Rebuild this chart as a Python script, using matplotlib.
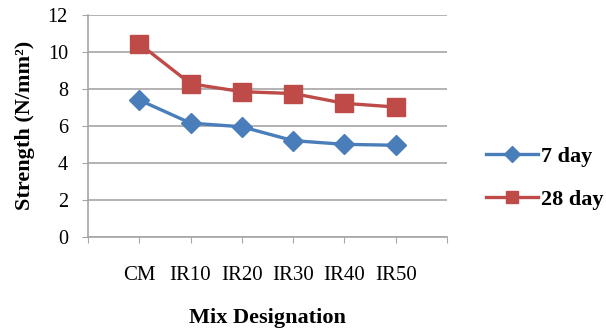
import matplotlib.pyplot as plt
from matplotlib.lines import Line2D
import numpy as np

categorias = ['CM', 'IR10', 'IR20', 'IR30', 'IR40', 'IR50']
dia7 = [7.4, 6.15, 5.95, 5.2, 5.0, 4.95]
dia28 = [10.45, 8.28, 7.85, 7.75, 7.22, 7.02]
yticks = [0, 2, 4, 6, 8, 10, 12]

azul = '#4a7ebb'
vermelho = '#be4b48'

plt.rcParams['font.family'] = ['Liberation Serif', 'DejaVu Serif']

fig = plt.figure(figsize=(6.06, 3.34), dpi=100)
ax = fig.add_axes([0.1452, 0.2913, 0.5924, 0.6637])

x = np.arange(1, len(categorias) + 1)

ax.plot(x, dia7, color=azul, linewidth=2.4, marker='D', markersize=10,
        markeredgecolor=azul, zorder=3)
ax.plot(x, dia28, color=vermelho, linewidth=2.4, marker='s', markersize=13,
        markeredgecolor=vermelho, zorder=3)

ax.set_xlim(0, 7)
ax.set_ylim(0, 12)
ax.set_yticks(yticks)
ax.set_xticks(np.arange(0, 8))
ax.set_xticklabels([''] + categorias + [''])
ax.yaxis.grid(True, color='#a6a6a6', linewidth=1.2)
ax.set_axisbelow(True)

for s in ['top', 'right']:
    ax.spines[s].set_visible(False)
ax.spines['left'].set_color('#a6a6a6')
ax.spines['bottom'].set_color('#a6a6a6')
ax.spines['left'].set_linewidth(1.2)
ax.spines['bottom'].set_linewidth(1.2)

ax.tick_params(axis='y', direction='out', length=4.5, color='#a6a6a6',
               labelsize=14.5, pad=10)
ax.tick_params(axis='x', direction='out', length=4, color='#a6a6a6',
               labelsize=15, pad=17)

ax.set_xlabel('Mix Designation', fontsize=16, fontweight='bold', labelpad=17)
ax.set_ylabel('Strength (N/mm²)', fontsize=16, fontweight='bold', labelpad=9)

# legenda com marcadores menores, como no Excel
handles = [
    Line2D([], [], color=azul, linewidth=2.4, marker='D', markersize=8),
    Line2D([], [], color=vermelho, linewidth=2.4, marker='s', markersize=9),
]
ax.legend(handles, ['7 day', '28 day'], loc='center left',
          bbox_to_anchor=(1.085, 0.265), frameon=False,
          prop={'weight': 'bold', 'size': 16}, handlelength=2.3,
          labelspacing=1.0, handletextpad=0.15, borderaxespad=0)

fig.savefig('out.png', dpi=100)
